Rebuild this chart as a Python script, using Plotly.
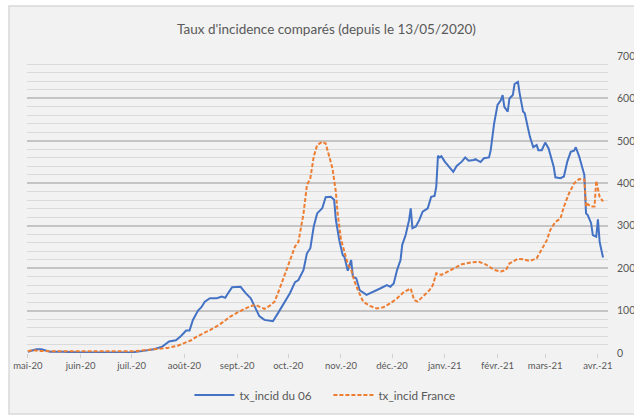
import pandas as pd
import plotly.graph_objects as go

START = pd.Timestamp("2020-05-13")

# Blue series: tx_incid du 06 (day offset from 13/05/2020, value)
days_06 = [0, 3, 5, 8, 11, 13, 20, 32, 45, 55, 62, 68, 74, 79, 83, 87, 90, 93, 95, 97,
           100, 102, 104, 107, 111, 114, 116, 118, 120, 125, 128, 131, 134, 136, 139, 144,
           147, 150, 154, 157, 159, 162, 164, 166, 168, 170, 173, 175, 178, 180, 181, 183,
           185, 186, 188, 190, 191, 193, 195, 199, 203, 207, 211, 213, 215, 217, 219, 220,
           222, 224, 225, 226, 228, 230, 232, 235, 237, 239, 240, 241, 242, 243, 245, 248,
           250, 252, 255, 257, 259, 262, 263, 266, 268, 271, 272, 274, 276, 278, 279, 280,
           282, 283, 285, 286, 288, 289, 291, 292, 295, 297, 299, 300, 302, 304, 306, 309,
           310, 313, 315, 317, 319, 321, 322, 324, 326, 327, 328, 329, 331, 332, 334, 335,
           336, 338]
vals_06 = [3, 6, 9, 9, 5, 3, 3, 1, 1, 1, 2, 5, 9, 15, 27, 30, 40, 53, 53, 78,
           100, 108, 121, 129, 129, 133, 130, 143, 155, 156, 141, 129, 105, 87, 78, 75,
           94, 115, 141, 167, 172, 196, 235, 247, 298, 329, 341, 367, 368, 361, 314, 266,
           231, 227, 194, 219, 180, 176, 148, 137, 144, 152, 160, 156, 164, 196, 219, 255,
           278, 313, 341, 294, 298, 313, 333, 341, 368, 370, 392, 465, 461, 464, 451, 438,
           427, 441, 451, 461, 453, 455, 457, 450, 459, 461, 478, 541, 585, 596, 608, 580,
           569, 600, 608, 634, 639, 612, 569, 565, 510, 485, 490, 478, 478, 496, 482, 439,
           414, 412, 416, 451, 474, 477, 485, 463, 431, 420, 329, 325, 306, 278, 274, 315,
           262, 225]

# Orange series: tx_incid France
days_fr = [0, 3, 6, 15, 40, 62, 72, 82, 88, 93, 96, 99, 103, 107, 113, 119, 123, 128, 131,
           134, 139, 142, 145, 148, 151, 154, 157, 159, 162, 164, 166, 168, 170, 173, 175,
           177, 179, 181, 182, 184, 186, 188, 190, 192, 194, 197, 201, 205, 209, 213, 217,
           221, 225, 227, 229, 232, 236, 238, 240, 243, 247, 251, 255, 261, 265, 269, 272,
           274, 278, 281, 283, 288, 291, 295, 299, 302, 305, 307, 310, 313, 315, 318, 321,
           324, 327, 328, 329, 331, 333, 334, 336, 338]
vals_fr = [4, 7, 5, 4, 4, 4, 8, 12, 17, 24, 30, 38, 46, 54, 68, 86, 95, 105, 111,
           113, 104, 111, 121, 152, 184, 219, 251, 262, 329, 396, 412, 463, 490, 498, 494,
           465, 435, 380, 330, 268, 240, 210, 196, 168, 148, 121, 111, 105, 108, 117, 129,
           144, 152, 125, 121, 133, 148, 160, 188, 184, 192, 200, 209, 214, 215, 209, 202,
           196, 192, 196, 211, 222, 221, 217, 223, 243, 266, 290, 309, 317, 345, 376, 400,
           410, 409, 345, 351, 345, 345, 406, 368, 357]

tick_dates = ["2020-05-13", "2020-06-13", "2020-07-13", "2020-08-13", "2020-09-13",
              "2020-10-13", "2020-11-13", "2020-12-13", "2021-01-13", "2021-02-13",
              "2021-03-13", "2021-04-13"]
tick_labels = ["mai-20", "juin-20", "juil.-20", "août-20", "sept.-20", "oct.-20",
               "nov.-20", "déc.-20", "janv.-21", "févr.-21", "mars-21", "avr.-21"]

x06 = [START + pd.Timedelta(days=d) for d in days_06]
xfr = [START + pd.Timedelta(days=d) for d in days_fr]

FONT = "Lato"
GREY = "#595959"

fig = go.Figure()
fig.add_trace(go.Scatter(x=x06, y=vals_06, mode="lines", name="tx_incid du 06",
                         line=dict(color="#4472c4", width=2)))
fig.add_trace(go.Scatter(x=xfr, y=vals_fr, mode="lines", name="tx_incid France",
                         line=dict(color="#ed7d31", width=2, dash="4px,2px")))

fig.add_shape(type="rect", xref="paper", yref="paper", x0=-0.031, x1=1.08, y0=-0.205, y1=1.168,
              fillcolor="#f2f2f2", line=dict(color="#d9d9d9", width=1.5), layer="below")

fig.update_layout(
    width=634, height=415,
    margin=dict(l=27, r=26, t=56, b=62, autoexpand=False),
    paper_bgcolor="white", plot_bgcolor="rgba(0,0,0,0)",
    font=dict(family=FONT, color=GREY, size=10),
    title=dict(text="Taux d'incidence comparés (depuis le 13/05/2020)",
               xref="container", x=0.515, xanchor="center",
               yref="container", y=1 - 29 / 415, yanchor="middle",
               font=dict(family=FONT, size=13.5, color=GREY)),
    showlegend=True,
    legend=dict(orientation="h", xref="container", x=0.518, xanchor="center",
                yref="container", y=1 - 395 / 415, yanchor="middle",
                font=dict(family=FONT, size=11.7, color=GREY), bgcolor="rgba(0,0,0,0)",
                itemwidth=40, tracegroupgap=0, entrywidth=84, entrywidthmode="pixels"),
    xaxis=dict(type="date", range=["2020-05-12 12:00", "2021-04-18 22:00"],
               tickvals=tick_dates, ticktext=tick_labels, tickangle=0, automargin=False,
               showgrid=False, zeroline=False, showline=False,
               ticks="outside", ticklen=4, tickcolor="#d0d0d0", tickwidth=1,
               tickfont=dict(family=FONT, size=9.5, color=GREY)),
    yaxis=dict(range=[0, 700], dtick=100, side="right", showline=False, zeroline=False,
               automargin=False,
               showgrid=True, gridcolor="#c4c4c4", gridwidth=1.5,
               minor=dict(dtick=20, showgrid=True, gridcolor="#dadada", gridwidth=1.3),
               ticks="", ticklabelstandoff=8,
               tickfont=dict(family=FONT, size=10.5, color=GREY)),
)

fig.write_html("out.html", config={"displayModeBar": False},
               post_script="document.body.style.margin='0px';")
